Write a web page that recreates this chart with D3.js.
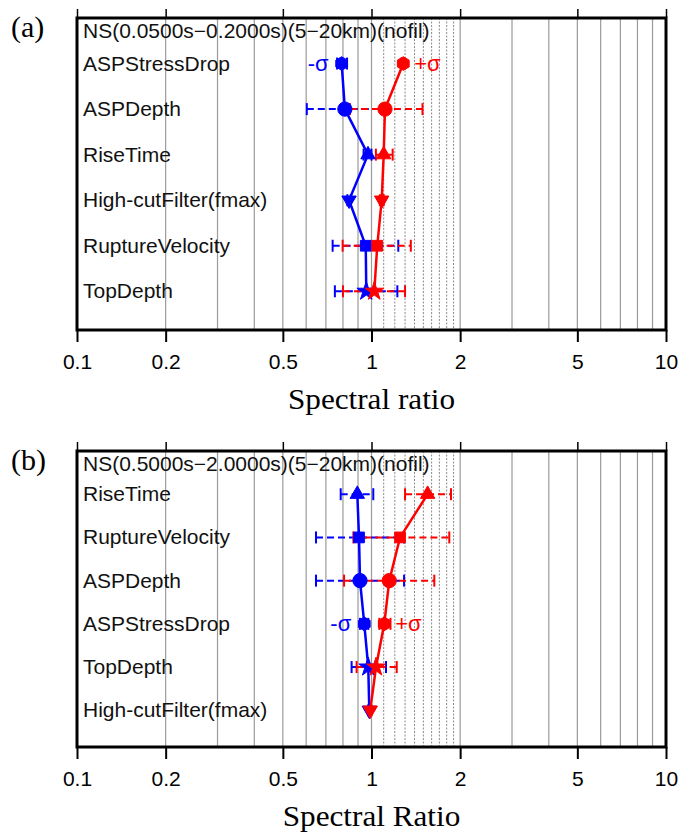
<!DOCTYPE html>
<html lang="en">
<head>
<meta charset="UTF-8">
<title>Spectral ratio</title>
<script src="https://cdn.jsdelivr.net/npm/d3@7"></script>
<style>
  body { margin: 0; background: #fff; }
  svg { display: block; }
</style>
</head>
<body>
<script>
// ---- data ----
// panel (a): NS(0.0500s-0.2000s)
var paramsA  = ["ASPStressDrop", "ASPDepth", "RiseTime", "High-cutFilter(fmax)", "RuptureVelocity", "TopDepth"];
var minusA   = [0.792, 0.812, 0.973, 0.839, 0.956, 0.960];
var minusLoA = [0.764, 0.603, 0.940, 0.828, 0.738, 0.751];
var minusHiA = [0.826, 1.090, 1.000, 0.850, 1.233, 1.224];
var plusA    = [1.282, 1.111, 1.100, 1.083, 1.046, 1.022];
var plusLoA  = [1.262, 0.845, 1.035, 1.068, 0.798, 0.800];
var plusHiA  = [1.300, 1.490, 1.180, 1.100, 1.360, 1.300];

// panel (b): NS(0.5000s-2.0000s)
var paramsB  = ["RiseTime", "RuptureVelocity", "ASPDepth", "ASPStressDrop", "TopDepth", "High-cutFilter(fmax)"];
var minusB   = [0.895, 0.907, 0.914, 0.945, 0.975, 0.983];
var minusLoB = [0.786, 0.648, 0.648, 0.914, 0.856, 0.975];
var minusHiB = [1.014, 1.290, 1.290, 0.975, 1.120, 0.990];
var plusB    = [1.551, 1.250, 1.149, 1.105, 1.036, 0.990];
var plusLoB  = [1.300, 0.868, 0.807, 1.063, 0.890, 0.980];
var plusHiB  = [1.862, 1.837, 1.634, 1.160, 1.218, 1.000];

var xTicks     = [0.1, 0.2, 0.5, 1, 2, 5, 10];
var gridSolid  = [0.2, 0.3, 0.4, 0.5, 0.6, 0.7, 0.8, 0.9, 1, 2, 3, 4, 5, 6, 7, 8, 9];
var gridDotted = [1.1, 1.2, 1.3, 1.4, 1.5, 1.6, 1.7, 1.8, 1.9];

// ---- drawing ----
var W = 681, H = 832;
var svg = d3.select("body").append("svg").attr("width", W).attr("height", H);

var x = d3.scaleLog().domain([0.1, 10]).range([77, 666]);

var hexagon = {
  draw: function(ctx, size) {
    var r = Math.sqrt(size / 2.598);
    for (var i = 0; i < 6; i++) {
      var a = Math.PI / 6 + i * Math.PI / 3;
      if (i == 0) ctx.moveTo(r * Math.cos(a), r * Math.sin(a));
      else ctx.lineTo(r * Math.cos(a), r * Math.sin(a));
    }
    ctx.closePath();
  }
};
var symbolOf = {
  "ASPStressDrop":        {type: hexagon, size: 120, rot: 0},
  "ASPDepth":             {type: d3.symbolCircle, size: 160, rot: 0},
  "RiseTime":             {type: d3.symbolTriangle, size: 90, rot: 0},
  "High-cutFilter(fmax)": {type: d3.symbolTriangle, size: 90, rot: 180},
  "RuptureVelocity":      {type: d3.symbolSquare, size: 115, rot: 0},
  "TopDepth":             {type: d3.symbolStar, size: 110, rot: 0}
};

var sans = "'Liberation Sans', Arial, Helvetica, sans-serif";
var serif = "'Liberation Serif', 'Times New Roman', serif";

function drawPanel(p) {
  var g = svg.append("g");
  var y = d3.scaleLinear().domain([0, 6.85]).range([p.top, p.bottom]);
  var rowY = function(i) { return y(i + 1); };

  // grid
  g.selectAll(".gs").data(gridSolid).enter().append("line")
    .attr("x1", d => x(d)).attr("x2", d => x(d))
    .attr("y1", p.top).attr("y2", p.bottom)
    .attr("stroke", "#9a9a9a").attr("stroke-width", 1.2);
  g.selectAll(".gd").data(gridDotted).enter().append("line")
    .attr("x1", d => x(d)).attr("x2", d => x(d))
    .attr("y1", p.top).attr("y2", p.bottom)
    .attr("stroke", "#8a8a8a").attr("stroke-width", 1).attr("stroke-dasharray", "2,1.5");

  // axes (ticks only, frame drawn separately)
  var bottom = g.append("g").attr("transform", "translate(0," + p.bottom + ")")
    .call(d3.axisBottom(x).tickValues(xTicks).tickFormat(d3.format("~g")).tickSize(12).tickPadding(12));
  bottom.select(".domain").remove();
  bottom.selectAll(".tick line").attr("stroke", "#000").attr("stroke-width", 2);
  bottom.selectAll(".tick text").attr("font-family", sans).attr("font-size", 21).attr("fill", "#000");

  var top = g.append("g").attr("transform", "translate(0," + p.top + ")")
    .call(d3.axisTop(x).tickValues(xTicks).tickFormat("").tickSize(9));
  top.select(".domain").remove();
  top.selectAll(".tick line").attr("stroke", "#000").attr("stroke-width", 1.5);

  // parameter labels
  g.selectAll(".lab").data(p.params).enter().append("text")
    .attr("transform", (d, i) => "translate(83," + (rowY(i) + 7) + ") scale(1.05,1)")
    .attr("font-family", sans).attr("font-size", 20).attr("fill", "#111")
    .text(d => d);
  g.append("text")
    .attr("transform", "translate(83," + (p.top + 20) + ") scale(1.05,1)")
    .attr("font-family", sans).attr("font-size", 20).attr("fill", "#111")
    .text(p.title);

  var series = [
    {c: "#0000ff", v: p.minus, lo: p.minusLo, hi: p.minusHi},
    {c: "#ff0000", v: p.plus, lo: p.plusLo, hi: p.plusHi}
  ];

  // error bars
  series.forEach(function(s) {
    var eb = g.append("g");
    p.params.forEach(function(name, i) {
      var yy = rowY(i);
      if (s.hi[i] - s.lo[i] < 1e-6) return;
      eb.append("line").attr("x1", x(s.lo[i])).attr("x2", x(s.hi[i]))
        .attr("y1", yy).attr("y2", yy)
        .attr("stroke", s.c).attr("stroke-width", 2).attr("stroke-dasharray", "7,4");
      [s.lo[i], s.hi[i]].forEach(function(v) {
        eb.append("line").attr("x1", x(v)).attr("x2", x(v))
          .attr("y1", yy - 6).attr("y2", yy + 6)
          .attr("stroke", s.c).attr("stroke-width", 2);
      });
    });
  });

  // lines + markers
  series.forEach(function(s) {
    var line = d3.line().x(d => x(d[0])).y(d => d[1]);
    g.append("path")
      .attr("d", line(s.v.map((v, i) => [v, rowY(i)])))
      .attr("fill", "none").attr("stroke", s.c).attr("stroke-width", 2.5);
    p.params.forEach(function(name, i) {
      var sym = symbolOf[name];
      g.append("path")
        .attr("d", d3.symbol().type(sym.type).size(sym.size)())
        .attr("transform", "translate(" + x(s.v[i]) + "," + rowY(i) + ") rotate(" + sym.rot + ")")
        .attr("fill", s.c).attr("stroke", s.c).attr("stroke-width", 1);
    });
  });

  // sigma notes at the stress-drop row
  var k = p.params.indexOf("ASPStressDrop");
  g.append("text").attr("x", x(p.minus[k]) - 13).attr("y", rowY(k) + 7)
    .attr("text-anchor", "end").attr("font-family", sans).attr("font-size", 22)
    .attr("fill", "#0000ff").text("-σ");
  g.append("text").attr("x", x(p.plus[k]) + 11).attr("y", rowY(k) + 7)
    .attr("font-family", sans).attr("font-size", 22)
    .attr("fill", "#ff0000").text("+σ");

  // frame
  g.append("rect").attr("x", 77).attr("y", p.top)
    .attr("width", 666 - 77).attr("height", p.bottom - p.top)
    .attr("fill", "none").attr("stroke", "#000").attr("stroke-width", 3);

  // panel tag and x title
  g.append("text").attr("x", 11).attr("y", p.top + 19)
    .attr("font-family", serif).attr("font-size", 30).attr("fill", "#000").text(p.tag);
  g.append("text").attr("transform", "translate(" + x(1) + "," + (p.bottom + 79) + ") scale(1.04,1)")
    .attr("text-anchor", "middle").attr("font-family", serif).attr("font-size", 30)
    .attr("fill", "#000").text(p.xTitle);
}

drawPanel({
  tag: "(a)", title: "NS(0.0500s\u22120.2000s)(5\u221220km)(nofil)", xTitle: "Spectral ratio",
  top: 18, bottom: 330,
  params: paramsA, minus: minusA, minusLo: minusLoA, minusHi: minusHiA,
  plus: plusA, plusLo: plusLoA, plusHi: plusHiA
});
drawPanel({
  tag: "(b)", title: "NS(0.5000s\u22122.0000s)(5\u221220km)(nofil)", xTitle: "Spectral Ratio",
  top: 451, bottom: 747,
  params: paramsB, minus: minusB, minusLo: minusLoB, minusHi: minusHiB,
  plus: plusB, plusLo: plusLoB, plusHi: plusHiB
});
</script>
</body>
</html>
